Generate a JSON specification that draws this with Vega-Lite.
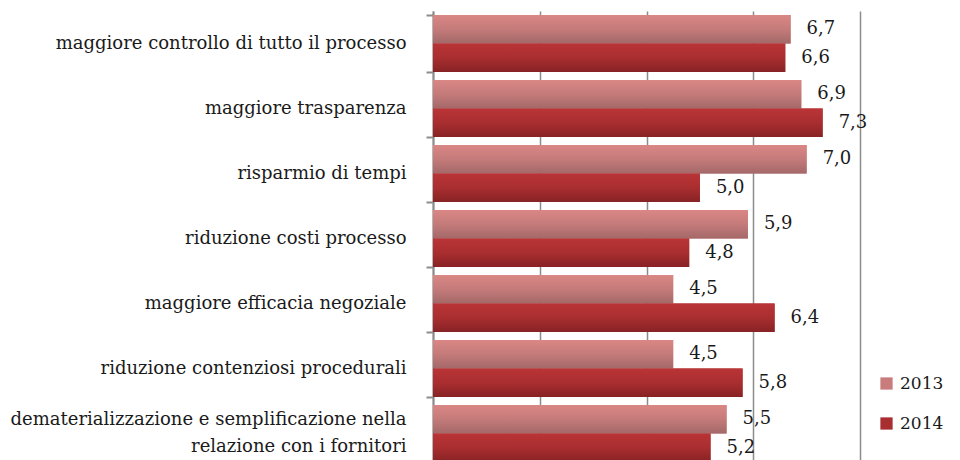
{
  "$schema": "https://vega.github.io/schema/vega-lite/v6.json",
  "width": 427,
  "height": 455,
  "autosize": {"type": "none"},
  "padding": {"left": 433, "top": 11, "right": 100, "bottom": 0},
  "background": "white",
  "config": {
    "locale": {"number": {"decimal": ",", "thousands": ".", "grouping": [3], "currency": ["", " €"]}},
    "view": {"stroke": null},
    "font": "DejaVu Serif"
  },
  "data": {
    "values": [
      {"cat": "maggiore controllo di tutto il processo", "year": "2013", "value": 6.7},
      {"cat": "maggiore controllo di tutto il processo", "year": "2014", "value": 6.6},
      {"cat": "maggiore trasparenza", "year": "2013", "value": 6.9},
      {"cat": "maggiore trasparenza", "year": "2014", "value": 7.3},
      {"cat": "risparmio di tempi", "year": "2013", "value": 7.0},
      {"cat": "risparmio di tempi", "year": "2014", "value": 5.0},
      {"cat": "riduzione  costi processo", "year": "2013", "value": 5.9},
      {"cat": "riduzione  costi processo", "year": "2014", "value": 4.8},
      {"cat": "maggiore efficacia negoziale", "year": "2013", "value": 4.5},
      {"cat": "maggiore efficacia negoziale", "year": "2014", "value": 6.4},
      {"cat": "riduzione contenziosi procedurali", "year": "2013", "value": 4.5},
      {"cat": "riduzione contenziosi procedurali", "year": "2014", "value": 5.8},
      {"cat": "dematerializzazione e semplificazione nella|relazione con i fornitori", "year": "2013", "value": 5.5},
      {"cat": "dematerializzazione e semplificazione nella|relazione con i fornitori", "year": "2014", "value": 5.2}
    ]
  },
  "encoding": {
    "y": {
      "field": "cat",
      "type": "nominal",
      "sort": null,
      "scale": {"paddingInner": 0.12, "paddingOuter": 0.06},
      "axis": {
        "title": null,
        "labelFont": "DejaVu Serif",
        "labelFontSize": 18,
        "labelColor": "#1a1a1a",
        "labelPadding": 20,
        "labelLimit": 0,
        "labelLineHeight": 27,
        "labelExpr": "split(datum.label, '|')",
        "labelOffset": {"condition": {"test": "indexof(datum.label, '|') >= 0", "value": -14}, "value": 0},
        "domainColor": "#8c8c8c",
        "domainWidth": 2,
        "tickColor": "#8c8c8c",
        "tickWidth": 2,
        "tickSize": 7,
        "tickBand": "extent"
      }
    },
    "yOffset": {"field": "year", "type": "nominal", "sort": ["2013", "2014"], "scale": {"domain": ["2013", "2014"]}},
    "x": {
      "field": "value",
      "type": "quantitative",
      "scale": {"domain": [0, 8]},
      "axis": {
        "title": null,
        "labels": false,
        "ticks": false,
        "domain": false,
        "grid": true,
        "gridColor": "#8c8c8c",
        "gridWidth": 1.5,
        "values": [0, 2, 4, 6, 8]
      }
    }
  },
  "layer": [
    {
      "mark": {"type": "bar"},
      "encoding": {
        "color": {
          "field": "year",
          "type": "nominal",
          "scale": {"domain": ["2013", "2014"], "range": ["#c87c7b", "#a92e30"]},
          "legend": {
            "orient": "none",
            "legendX": 445,
            "legendY": 364,
            "title": null,
            "labelFont": "DejaVu Serif",
            "labelFontSize": 17,
            "labelColor": "#1a1a1a",
            "labelOffset": 5,
            "symbolType": "square",
            "symbolSize": 150,
            "symbolStrokeWidth": 0,
            "symbolOpacity": 1,
            "rowPadding": 22
          }
        }
      }
    },
    {
      "transform": [{"filter": "datum.year == '2013'"}],
      "mark": {
        "type": "bar",
        "color": {"gradient": "linear", "x1": 0, "y1": 0, "x2": 0, "y2": 1, "stops": [{"offset": 0, "color": "#da8785"}, {"offset": 0.5, "color": "#c47b7a"}, {"offset": 1, "color": "#a46868"}]}
      }
    },
    {
      "transform": [{"filter": "datum.year == '2014'"}],
      "mark": {
        "type": "bar",
        "color": {"gradient": "linear", "x1": 0, "y1": 0, "x2": 0, "y2": 1, "stops": [{"offset": 0, "color": "#ba3436"}, {"offset": 0.5, "color": "#a92e30"}, {"offset": 1, "color": "#872224"}]}
      }
    },
    {
      "mark": {"type": "text", "align": "left", "dx": 16, "baseline": "middle", "fontSize": 18, "color": "#1a1a1a", "font": "DejaVu Serif"},
      "encoding": {"text": {"field": "value", "type": "quantitative", "format": ".1f"}}
    }
  ]
}
